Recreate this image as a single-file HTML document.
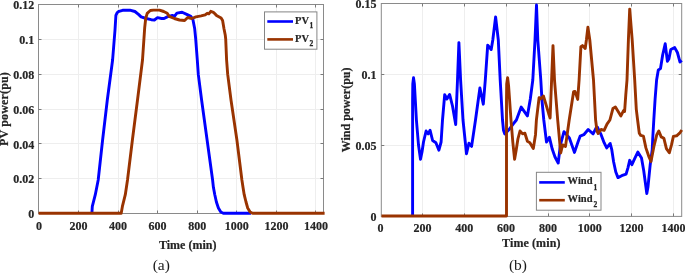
<!DOCTYPE html>
<html><head><meta charset="utf-8"><title>PV and Wind power</title>
<style>
html,body{margin:0;padding:0;background:#fff;}
body{width:685px;height:273px;overflow:hidden;}
svg{display:block;}
text{font-family:"Liberation Serif","Times New Roman",serif;fill:#262626;}
.t{font-weight:bold;font-size:12px;stroke:#262626;stroke-width:0.2px;}
.lg{font-weight:bold;font-size:10.5px;stroke:#262626;stroke-width:0.2px;}
.sub{font-weight:bold;font-size:7.5px;stroke:#262626;stroke-width:0.25px;}
.cap{font-size:15.5px;fill:#1a1a1a;}
</style></head><body>
<svg width="685" height="273" viewBox="0 0 685 273">
<rect width="685" height="273" fill="#fff"/>
<g id="left">
<line x1="78.5" y1="4.5" x2="78.5" y2="213.5" stroke="#eeeeee" stroke-width="1"/>
<line x1="118.5" y1="4.5" x2="118.5" y2="213.5" stroke="#eeeeee" stroke-width="1"/>
<line x1="157.5" y1="4.5" x2="157.5" y2="213.5" stroke="#eeeeee" stroke-width="1"/>
<line x1="197.5" y1="4.5" x2="197.5" y2="213.5" stroke="#eeeeee" stroke-width="1"/>
<line x1="236.5" y1="4.5" x2="236.5" y2="213.5" stroke="#eeeeee" stroke-width="1"/>
<line x1="276.5" y1="4.5" x2="276.5" y2="213.5" stroke="#eeeeee" stroke-width="1"/>
<line x1="315.5" y1="4.5" x2="315.5" y2="213.5" stroke="#eeeeee" stroke-width="1"/>
<line x1="38.5" y1="178.5" x2="323.5" y2="178.5" stroke="#eeeeee" stroke-width="1"/>
<line x1="38.5" y1="143.5" x2="323.5" y2="143.5" stroke="#eeeeee" stroke-width="1"/>
<line x1="38.5" y1="109.5" x2="323.5" y2="109.5" stroke="#eeeeee" stroke-width="1"/>
<line x1="38.5" y1="74.5" x2="323.5" y2="74.5" stroke="#eeeeee" stroke-width="1"/>
<line x1="38.5" y1="39.5" x2="323.5" y2="39.5" stroke="#eeeeee" stroke-width="1"/>
<rect x="38.5" y="4.5" width="285.0" height="209.0" fill="none" stroke="#8a8a8a" stroke-width="1"/>
<line x1="78.5" y1="213.5" x2="78.5" y2="210.5" stroke="#7a7a7a" stroke-width="1"/>
<line x1="78.5" y1="4.5" x2="78.5" y2="7.5" stroke="#7a7a7a" stroke-width="1"/>
<line x1="118.5" y1="213.5" x2="118.5" y2="210.5" stroke="#7a7a7a" stroke-width="1"/>
<line x1="118.5" y1="4.5" x2="118.5" y2="7.5" stroke="#7a7a7a" stroke-width="1"/>
<line x1="157.5" y1="213.5" x2="157.5" y2="210.5" stroke="#7a7a7a" stroke-width="1"/>
<line x1="157.5" y1="4.5" x2="157.5" y2="7.5" stroke="#7a7a7a" stroke-width="1"/>
<line x1="197.5" y1="213.5" x2="197.5" y2="210.5" stroke="#7a7a7a" stroke-width="1"/>
<line x1="197.5" y1="4.5" x2="197.5" y2="7.5" stroke="#7a7a7a" stroke-width="1"/>
<line x1="236.5" y1="213.5" x2="236.5" y2="210.5" stroke="#7a7a7a" stroke-width="1"/>
<line x1="236.5" y1="4.5" x2="236.5" y2="7.5" stroke="#7a7a7a" stroke-width="1"/>
<line x1="276.5" y1="213.5" x2="276.5" y2="210.5" stroke="#7a7a7a" stroke-width="1"/>
<line x1="276.5" y1="4.5" x2="276.5" y2="7.5" stroke="#7a7a7a" stroke-width="1"/>
<line x1="315.5" y1="213.5" x2="315.5" y2="210.5" stroke="#7a7a7a" stroke-width="1"/>
<line x1="315.5" y1="4.5" x2="315.5" y2="7.5" stroke="#7a7a7a" stroke-width="1"/>
<line x1="38.5" y1="178.5" x2="41.5" y2="178.5" stroke="#7a7a7a" stroke-width="1"/>
<line x1="323.5" y1="178.5" x2="320.5" y2="178.5" stroke="#7a7a7a" stroke-width="1"/>
<line x1="38.5" y1="143.5" x2="41.5" y2="143.5" stroke="#7a7a7a" stroke-width="1"/>
<line x1="323.5" y1="143.5" x2="320.5" y2="143.5" stroke="#7a7a7a" stroke-width="1"/>
<line x1="38.5" y1="109.5" x2="41.5" y2="109.5" stroke="#7a7a7a" stroke-width="1"/>
<line x1="323.5" y1="109.5" x2="320.5" y2="109.5" stroke="#7a7a7a" stroke-width="1"/>
<line x1="38.5" y1="74.5" x2="41.5" y2="74.5" stroke="#7a7a7a" stroke-width="1"/>
<line x1="323.5" y1="74.5" x2="320.5" y2="74.5" stroke="#7a7a7a" stroke-width="1"/>
<line x1="38.5" y1="39.5" x2="41.5" y2="39.5" stroke="#7a7a7a" stroke-width="1"/>
<line x1="323.5" y1="39.5" x2="320.5" y2="39.5" stroke="#7a7a7a" stroke-width="1"/>
<polyline points="91.9,213.3 92.3,206.4 95.3,194.7 98.2,180.0 102.6,140.0 107.3,100.0 112.6,60.0 115.0,30.0 115.9,15.4 117.2,12.6 119.0,11.3 122.6,10.3 129.8,10.1 134.9,11.5 138.5,14.4 141.1,16.9 146.2,18.5 151.3,19.7 154.4,20.0 157.5,17.7 161.6,18.5 164.1,18.5 167.2,16.9 172.3,15.4 174.4,16.4 176.9,13.1 182.1,12.3 186.7,14.4 190.8,16.4 192.9,19.5 194.7,28.8 195.7,39.0 197.3,60.0 198.3,74.4 201.6,100.0 207.1,140.0 212.6,180.0 213.4,187.3 214.8,194.7 216.4,202.0 218.4,208.0 220.8,212.0 223.3,213.3 251.0,213.3" fill="none" stroke="#0000ff" stroke-width="2.9" stroke-linejoin="round"/>
<polyline points="38.6,213.3 121.2,213.3 122.4,206.4 125.3,194.7 127.5,180.0 132.4,140.0 137.5,100.0 142.5,60.0 144.7,27.7 145.7,18.5 147.2,13.3 150.3,10.5 153.4,10.1 159.5,10.1 163.7,11.5 167.2,13.3 169.2,16.4 174.4,18.5 179.5,20.0 184.6,20.5 187.7,17.5 191.8,18.5 195.9,16.9 201.1,15.9 205.2,14.9 207.2,13.3 208.8,13.9 210.8,11.3 213.4,12.3 216.5,15.4 221.1,18.0 222.6,20.5 224.0,28.8 225.2,34.7 225.7,39.0 226.6,60.0 227.7,74.4 231.0,100.0 236.9,140.0 241.9,180.0 243.0,187.3 244.2,194.7 246.0,202.0 247.7,208.0 250.1,212.0 252.6,213.3 324.6,213.3" fill="none" stroke="#993300" stroke-width="2.9" stroke-linejoin="round"/>
<text class="t" x="34.3" y="218.2" text-anchor="end">0</text>
<text class="t" x="34.3" y="183.4" text-anchor="end">0.02</text>
<text class="t" x="34.3" y="148.5" text-anchor="end">0.04</text>
<text class="t" x="34.3" y="113.7" text-anchor="end">0.06</text>
<text class="t" x="34.3" y="78.9" text-anchor="end">0.08</text>
<text class="t" x="34.3" y="44.0" text-anchor="end">0.1</text>
<text class="t" x="34.3" y="9.2" text-anchor="end">0.12</text>
<text class="t" x="38.9" y="229.6" text-anchor="middle">0</text>
<text class="t" x="78.5" y="229.6" text-anchor="middle">200</text>
<text class="t" x="118.1" y="229.6" text-anchor="middle">400</text>
<text class="t" x="157.6" y="229.6" text-anchor="middle">600</text>
<text class="t" x="197.2" y="229.6" text-anchor="middle">800</text>
<text class="t" x="236.8" y="229.6" text-anchor="middle">1000</text>
<text class="t" x="276.4" y="229.6" text-anchor="middle">1200</text>
<text class="t" x="316.0" y="229.6" text-anchor="middle">1400</text>
<text class="t" x="187.7" y="248.8" text-anchor="middle">Time (min)</text>
<text class="t" transform="translate(7.6,109) rotate(-90)" text-anchor="middle" letter-spacing="0.15">PV power(pu)</text>
<text class="cap" x="161.3" y="270" text-anchor="middle">(a)</text>
<rect x="264.5" y="11.9" width="52.4" height="37.3" fill="#fff" stroke="#858585" stroke-width="1"/>
<line x1="267.3" y1="21.5" x2="293" y2="21.5" stroke="#0000ff" stroke-width="2.6"/>
<line x1="267.3" y1="39.4" x2="293" y2="39.4" stroke="#993300" stroke-width="2.6"/>
<text class="lg" x="295" y="24.2">PV</text><text class="sub" x="309.4" y="28.3">1</text>
<text class="lg" x="295" y="42">PV</text><text class="sub" x="309.4" y="46.2">2</text>
</g>
<g id="right">
<line x1="422.5" y1="3.5" x2="422.5" y2="216.4" stroke="#eeeeee" stroke-width="1"/>
<line x1="464.5" y1="3.5" x2="464.5" y2="216.4" stroke="#eeeeee" stroke-width="1"/>
<line x1="506.5" y1="3.5" x2="506.5" y2="216.4" stroke="#eeeeee" stroke-width="1"/>
<line x1="548.5" y1="3.5" x2="548.5" y2="216.4" stroke="#eeeeee" stroke-width="1"/>
<line x1="589.5" y1="3.5" x2="589.5" y2="216.4" stroke="#eeeeee" stroke-width="1"/>
<line x1="631.5" y1="3.5" x2="631.5" y2="216.4" stroke="#eeeeee" stroke-width="1"/>
<line x1="673.5" y1="3.5" x2="673.5" y2="216.4" stroke="#eeeeee" stroke-width="1"/>
<line x1="381.3" y1="145.5" x2="681.7" y2="145.5" stroke="#eeeeee" stroke-width="1"/>
<line x1="381.3" y1="74.5" x2="681.7" y2="74.5" stroke="#eeeeee" stroke-width="1"/>
<rect x="381.3" y="3.5" width="300.4" height="212.9" fill="none" stroke="#8a8a8a" stroke-width="1"/>
<line x1="422.5" y1="216.4" x2="422.5" y2="213.4" stroke="#7a7a7a" stroke-width="1"/>
<line x1="422.5" y1="3.5" x2="422.5" y2="6.5" stroke="#7a7a7a" stroke-width="1"/>
<line x1="464.5" y1="216.4" x2="464.5" y2="213.4" stroke="#7a7a7a" stroke-width="1"/>
<line x1="464.5" y1="3.5" x2="464.5" y2="6.5" stroke="#7a7a7a" stroke-width="1"/>
<line x1="506.5" y1="216.4" x2="506.5" y2="213.4" stroke="#7a7a7a" stroke-width="1"/>
<line x1="506.5" y1="3.5" x2="506.5" y2="6.5" stroke="#7a7a7a" stroke-width="1"/>
<line x1="548.5" y1="216.4" x2="548.5" y2="213.4" stroke="#7a7a7a" stroke-width="1"/>
<line x1="548.5" y1="3.5" x2="548.5" y2="6.5" stroke="#7a7a7a" stroke-width="1"/>
<line x1="589.5" y1="216.4" x2="589.5" y2="213.4" stroke="#7a7a7a" stroke-width="1"/>
<line x1="589.5" y1="3.5" x2="589.5" y2="6.5" stroke="#7a7a7a" stroke-width="1"/>
<line x1="631.5" y1="216.4" x2="631.5" y2="213.4" stroke="#7a7a7a" stroke-width="1"/>
<line x1="631.5" y1="3.5" x2="631.5" y2="6.5" stroke="#7a7a7a" stroke-width="1"/>
<line x1="673.5" y1="216.4" x2="673.5" y2="213.4" stroke="#7a7a7a" stroke-width="1"/>
<line x1="673.5" y1="3.5" x2="673.5" y2="6.5" stroke="#7a7a7a" stroke-width="1"/>
<line x1="381.3" y1="145.5" x2="384.3" y2="145.5" stroke="#7a7a7a" stroke-width="1"/>
<line x1="681.7" y1="145.5" x2="678.7" y2="145.5" stroke="#7a7a7a" stroke-width="1"/>
<line x1="381.3" y1="74.5" x2="384.3" y2="74.5" stroke="#7a7a7a" stroke-width="1"/>
<line x1="681.7" y1="74.5" x2="678.7" y2="74.5" stroke="#7a7a7a" stroke-width="1"/>
<polyline points="412.6,216.0 412.6,100.0 412.8,84.0 413.5,77.8 414.4,84.0 416.4,120.0 418.5,145.0 420.5,159.3 422.0,152.0 423.5,142.0 426.1,131.0 428.2,133.9 430.1,130.3 432.6,140.5 435.9,142.7 438.9,150.2 441.1,142.0 442.5,120.0 444.7,94.7 446.9,99.0 449.6,94.4 452.5,106.0 455.7,124.5 457.5,80.0 458.9,42.6 460.6,80.0 463.0,120.0 466.5,153.8 468.9,143.2 471.6,146.4 475.5,120.0 479.9,88.0 483.3,104.2 485.3,80.0 487.7,45.1 491.2,49.5 492.8,40.0 495.6,16.9 498.3,40.0 500.2,80.0 502.5,120.0 503.5,130.3 504.7,133.9 509.1,129.5 513.5,123.7 516.4,120.0 521.2,107.1 527.4,115.9 530.3,99.0 532.8,80.0 535.0,40.0 536.5,5.0 537.8,40.0 540.8,80.0 542.0,100.5 543.8,120.0 546.5,142.0 549.4,137.3 552.3,149.3 555.0,157.0 558.2,163.0 560.4,144.9 564.0,131.7 569.2,137.6 574.5,152.4 578.0,142.0 580.2,136.1 583.8,134.7 588.2,129.5 593.1,133.9 596.0,128.1 597.5,127.3 601.1,134.7 604.1,142.7 606.7,147.9 610.2,143.5 611.7,149.3 613.6,161.7 615.8,172.0 618.0,177.6 621.7,175.7 626.1,174.2 628.0,167.6 629.7,160.3 631.9,164.7 634.9,158.1 637.8,152.1 641.5,158.1 643.7,170.5 645.9,186.7 646.8,193.5 648.0,186.7 650.2,164.7 652.2,150.0 652.7,139.0 653.8,120.0 655.1,99.0 656.6,80.0 658.3,70.0 660.5,68.6 662.7,54.7 665.2,43.7 667.4,61.3 668.9,59.0 670.8,49.5 674.7,47.6 677.4,52.5 680.0,62.0 681.8,60.5" fill="none" stroke="#0000ff" stroke-width="2.9" stroke-linejoin="round"/>
<polyline points="381.5,216.0 506.5,216.0 506.5,100.0 506.7,84.0 507.6,77.8 508.6,86.0 511.0,120.0 512.8,142.0 514.6,159.3 516.2,150.0 517.9,139.0 520.0,131.0 522.6,133.9 524.9,133.2 527.4,141.3 529.9,142.7 533.3,148.6 535.5,134.7 536.4,120.0 539.1,97.6 541.0,98.8 543.5,96.1 548.7,113.7 550.1,118.0 551.6,80.0 553.0,45.6 554.5,80.0 557.7,120.0 560.7,153.0 562.6,144.9 565.5,146.4 569.2,120.0 573.6,91.7 575.0,91.4 577.7,99.4 579.1,80.0 580.9,46.6 582.4,45.6 585.2,48.5 586.4,40.0 587.9,27.1 589.8,40.0 593.5,80.0 595.6,120.0 597.0,131.0 598.2,133.5 601.1,129.5 604.1,130.3 607.0,124.1 609.9,120.0 612.9,108.6 615.4,107.1 620.9,115.9 623.4,110.8 624.6,111.5 625.8,94.7 627.0,80.0 628.4,40.0 629.7,9.1 632.2,40.0 634.7,80.0 636.3,109.3 637.6,120.0 639.3,133.2 640.7,135.4 643.4,136.1 645.9,147.9 649.0,157.0 651.0,161.5 653.9,146.4 656.8,134.7 658.8,131.0 661.2,136.9 663.9,138.3 666.4,148.6 669.3,152.8 671.5,144.9 673.4,136.4 676.6,135.8 679.6,133.2 681.8,130.0" fill="none" stroke="#993300" stroke-width="2.9" stroke-linejoin="round"/>
<text class="t" x="376.5" y="221.2" text-anchor="end">0</text>
<text class="t" x="376.5" y="150.2" text-anchor="end">0.05</text>
<text class="t" x="376.5" y="79.3" text-anchor="end">0.1</text>
<text class="t" x="376.5" y="8.3" text-anchor="end">0.15</text>
<text class="t" x="380.6" y="232" text-anchor="middle">0</text>
<text class="t" x="422.4" y="232" text-anchor="middle">200</text>
<text class="t" x="464.3" y="232" text-anchor="middle">400</text>
<text class="t" x="506.1" y="232" text-anchor="middle">600</text>
<text class="t" x="547.9" y="232" text-anchor="middle">800</text>
<text class="t" x="589.7" y="232" text-anchor="middle">1000</text>
<text class="t" x="631.6" y="232" text-anchor="middle">1200</text>
<text class="t" x="673.4" y="232" text-anchor="middle">1400</text>
<text class="t" x="531.3" y="247.1" text-anchor="middle" letter-spacing="0.1">Time (min)</text>
<text class="t" transform="translate(349.9,109.9) rotate(-90)" text-anchor="middle">Wind power(pu)</text>
<text class="cap" x="518" y="270.2" text-anchor="middle">(b)</text>
<rect x="536.4" y="172.3" width="64.6" height="37.9" fill="#fff" stroke="#858585" stroke-width="1"/>
<line x1="539.2" y1="182.4" x2="564.8" y2="182.4" stroke="#0000ff" stroke-width="2.6"/>
<line x1="539.2" y1="200.2" x2="564.8" y2="200.2" stroke="#993300" stroke-width="2.6"/>
<text class="lg" x="567.6" y="184.4">Wind</text><text class="sub" x="593.6" y="189.7">1</text>
<text class="lg" x="567.6" y="201.8">Wind</text><text class="sub" x="593.6" y="206.9">2</text>
</g>
</svg></body></html>
